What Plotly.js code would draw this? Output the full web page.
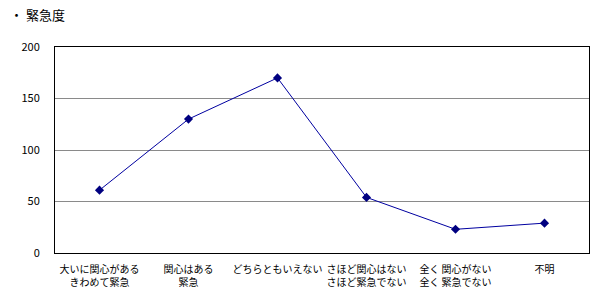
<!DOCTYPE html>
<html>
<head>
<meta charset="utf-8">
<script src="https://cdn.plot.ly/plotly-3.0.1.min.js"></script>
<style>html,body{margin:0;padding:0;background:#fff;}#chart{width:612px;height:296px;}</style>
</head>
<body>
<div id="chart"></div>
<script>
const categories = [
  "大いに関心がある<br>きわめて緊急",
  "関心はある<br>緊急",
  "どちらともいえない",
  "さほど関心はない<br>さほど緊急でない",
  "全く 関心がない<br>全く 緊急でない",
  "不明"
];
const values = [61, 130, 170, 54, 23, 29];
const yTicks = [0, 50, 100, 150, 200];
const chartTitle = "・ 緊急度";

const font = "'Noto Sans CJK JP', 'DejaVu Sans', sans-serif";

Plotly.newPlot('chart', [{
  x: categories,
  y: values,
  type: 'scatter',
  mode: 'lines+markers',
  line: {color: '#0000a0', width: 1},
  marker: {symbol: 'diamond', size: 7, color: '#000080'},
  cliponaxis: false
}], {
  width: 612, height: 296,
  margin: {l: 55, r: 23, t: 47, b: 43},
  paper_bgcolor: '#ffffff',
  plot_bgcolor: '#ffffff',
  showlegend: false,
  font: {family: font, size: 10, color: '#000000'},
  title: {
    text: chartTitle,
    x: 10/612, xanchor: 'left', xref: 'container',
    y: 1 - 15/296, yanchor: 'middle', yref: 'container',
    font: {family: font, size: 13, color: '#000000'}
  },
  xaxis: {
    type: 'category',
    range: [-0.5, 5.5],
    tickangle: 0,
    showline: true, linecolor: '#000000', linewidth: 1, mirror: true,
    showgrid: false, zeroline: false, ticks: '',
    ticklabelstandoff: 7,
    tickfont: {family: font, size: 10, color: '#000000'},
    fixedrange: true
  },
  yaxis: {
    range: [0, 200],
    tickvals: yTicks,
    ticktext: yTicks.map(String),
    showline: true, linecolor: '#000000', linewidth: 1, mirror: true,
    showgrid: true, gridcolor: '#8a8a8a', gridwidth: 1,
    zeroline: false, ticks: '',
    ticklabelstandoff: 12,
    tickfont: {family: font, size: 11, color: '#000000'},
    fixedrange: true
  }
}, {staticPlot: true});
</script>
</body>
</html>
